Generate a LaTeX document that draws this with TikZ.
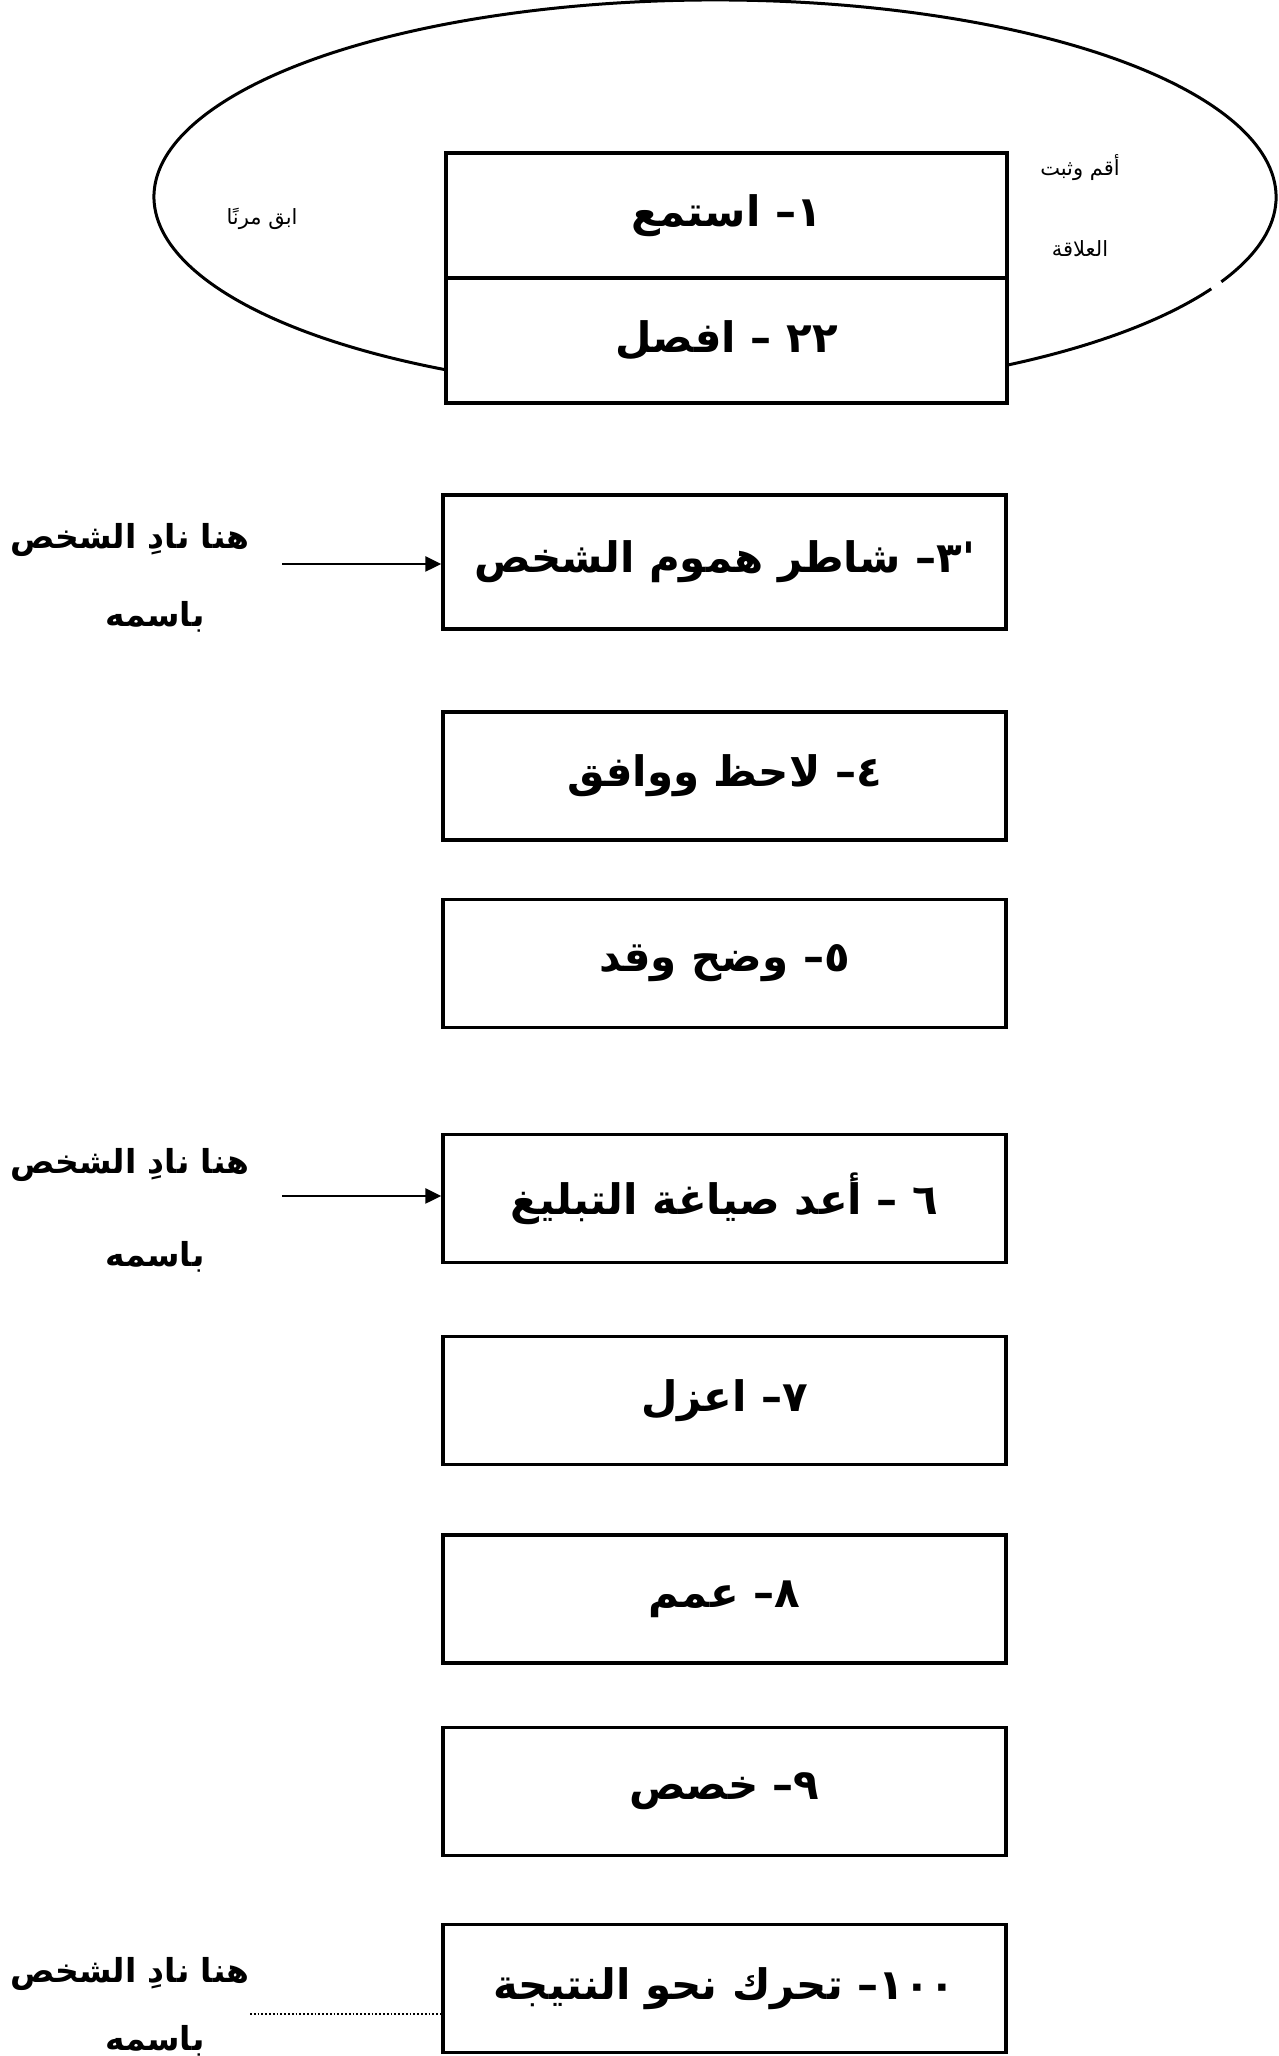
\documentclass[tikz,border=0pt]{standalone}
\usepackage{fontspec}
\usetikzlibrary{arrows.meta,calc}
\TeXXeTstate=1
\newfontfamily\arabicfont[Script=Arabic]{DejaVu Sans}
\newcommand{\RL}[1]{\beginR #1\endR}
\begin{document}
\begin{tikzpicture}[x=1pt,y=1pt,
  stepbox/.style={draw,line width=3.4pt,minimum width=563pt,minimum height=128pt,inner sep=0pt,
    font=\arabicfont\bfseries\fontsize{42}{50}\selectfont},
  sidelabel/.style={font=\arabicfont\bfseries\fontsize{33}{40}\selectfont,inner sep=0pt},
  ringlabel/.style={font=\arabicfont\fontsize{21}{26}\selectfont,inner sep=0pt},
  ring/.style={line width=3pt},
  callarrow/.style={line width=2.4pt,-{Triangle[length=16pt,width=15pt]}},
  callline/.style={line width=1.8pt,dotted}]
\fill[white] (0,0) rectangle (1279,2056);
\useasboundingbox (0,0) rectangle (1279,2056);

% ellipse (open where the boxes cross it, and a small break on the right)
\coordinate (ec) at (715,1859);
\draw[ring] ($(ec)+({561*cos(-25.5)},{197*sin(-25.5)})$)
  arc[start angle=-25.5,end angle=241.4,x radius=561,y radius=197];
\draw[ring] ($(ec)+({561*cos(-58.6)},{197*sin(-58.6)})$)
  arc[start angle=-58.6,end angle=-27.8,x radius=561,y radius=197];

% boxes
\node[stepbox,minimum width=561pt,minimum height=125pt] (b1) at (726.5,1840.5) {\RL{١– استمع}};
\node[stepbox,minimum width=561pt,minimum height=125pt] (b2) at (726.5,1715.5) {\RL{٢٢ – افصل}};
\node[stepbox,minimum height=134pt] (b3) at (724.5,1494) {\RL{'٣– شاطر هموم الشخص}};
\node[stepbox] (b4) at (724.5,1280) {\RL{٤– لاحظ ووافق}};
\node[stepbox] (b5) at (724.5,1092.5) {\RL{٥– وضح وقد}};
\node[stepbox] (b6) at (724.5,857.5) {\RL{٦ – أعد صياغة التبليغ}};
\node[stepbox] (b7) at (724.5,655.5) {\RL{٧– اعزل}};
\node[stepbox] (b8) at (724.5,457) {\RL{٨– عمم}};
\node[stepbox] (b9) at (724.5,264.5) {\RL{٩– خصص}};
\node[stepbox] (b10) at (724.5,67.5) {\RL{\beginL ١٠٠\endL– تحرك نحو النتيجة}};

% labels inside the ellipse
\node[ringlabel] (flex) at (262,1837) {\RL{ابق مرنًا}};
\node[ringlabel] (keep1) at (1080,1888) {\RL{أقم وثبت}};
\node[ringlabel] (keep2) at (1080,1807) {\RL{العلاقة}};

% side labels
\node[sidelabel] (n1) at (130,1516) {\RL{هنا نادِ الشخص}};
\node[sidelabel] (n1b) at (155,1439) {\RL{باسمه}};
\node[sidelabel] (n2) at (130,891) {\RL{هنا نادِ الشخص}};
\node[sidelabel] (n2b) at (155,799) {\RL{باسمه}};
\node[sidelabel] (n3) at (130,82) {\RL{هنا نادِ الشخص}};
\node[sidelabel] (n3b) at (155,15) {\RL{باسمه}};

% connectors
\coordinate (a1) at (282,1492);
\coordinate (a2) at (282,860);
\coordinate (a3) at (250,42);
\draw[callarrow] (a1) -- (a1 -| b3.west);
\draw[callarrow] (a2) -- (a2 -| b6.west);
\draw[callline] (a3) -- (a3 -| b10.west);
\end{tikzpicture}
\end{document}
